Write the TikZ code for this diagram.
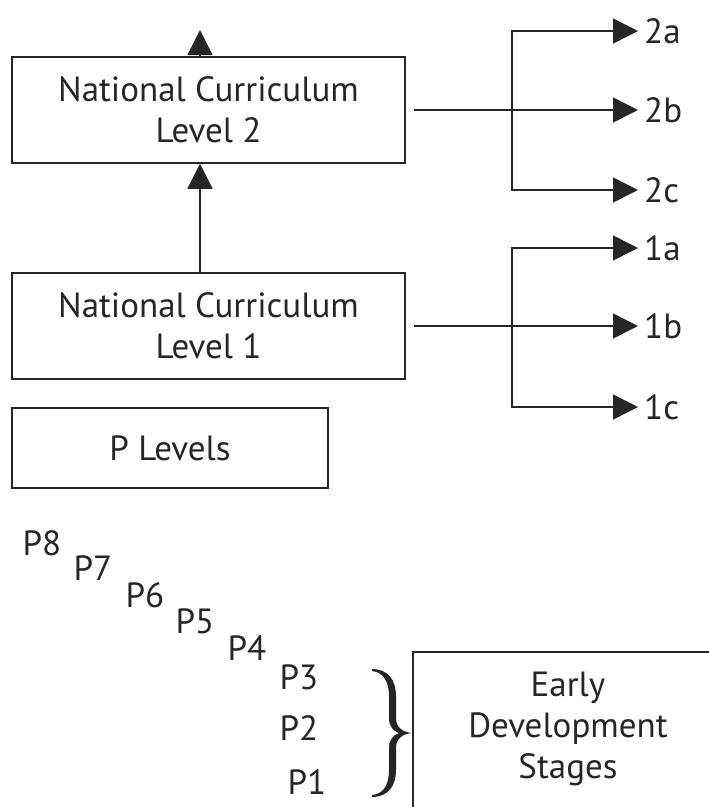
\documentclass[tikz,border=0pt]{standalone}
\usepackage{fontspec}
\setmainfont{PT Sans}
\usetikzlibrary{arrows.meta}
\definecolor{ink}{HTML}{262626}
\tikzset{
  boxnode/.style={draw=ink, line width=1.5pt, align=center, inner sep=0pt, text=ink},
  txt/.style={inner sep=2pt, text=ink},
  lab/.style={inner sep=0pt, text=ink, anchor=west},
  conn/.style={draw=ink, line width=1.5pt},
  arr/.style={conn, -{Triangle[length=25pt,width=25pt]}},
}
\begin{document}
\begin{tikzpicture}[x=1pt,y=-1pt,font=\fontsize{35}{41}\selectfont]
\useasboundingbox (0,0) rectangle (709,807);
\clip (0,0) rectangle (709,807);
% main boxes
\node[boxnode, minimum width=393pt, minimum height=106pt] (nc2) at (208.5,110) {National Curriculum\\Level 2};
\node[boxnode, minimum width=393pt, minimum height=106pt] (nc1) at (208.5,326) {National Curriculum\\Level 1};
\node[boxnode, minimum width=316pt, minimum height=80pt] (plev) at (170,448) {P Levels};
% vertical arrows
\coordinate (top) at (200,30);
\draw[arr] ([xshift=-8.5pt]nc1.north) -- ([xshift=-8.5pt]nc2.south);
\draw[arr] ([xshift=-8.5pt]nc2.north) -- (top);
% level 2 branches
\node[lab] (l2a) at (638,31) {\hspace{6pt}2a};
\node[lab] (l2b) at (638,110) {\hspace{6pt}2b};
\node[lab] (l2c) at (638,190) {\hspace{6pt}2c};
\coordinate (j2) at (512,110);
\draw[arr] ([xshift=8pt]nc2.east) -- (l2b.west);
\draw[arr] (j2) |- (l2a.west);
\draw[arr] (j2) |- (l2c.west);
% level 1 branches
\node[lab] (l1a) at (638,248) {\hspace{6pt}1a};
\node[lab] (l1b) at (638,326) {\hspace{6pt}1b};
\node[lab] (l1c) at (638,407) {\hspace{6pt}1c};
\coordinate (j1) at (512,326);
\draw[arr] ([xshift=8pt]nc1.east) -- (l1b.west);
\draw[arr] (j1) |- (l1a.west);
\draw[arr] (j1) |- (l1c.west);
% P levels
\node[txt] (p8) at (42,543) {P8};
\node[txt] (p7) at (93,568) {P7};
\node[txt] (p6) at (145,595) {P6};
\node[txt] (p5) at (195,621) {P5};
\node[txt] (p4) at (247,648) {P4};
\node[txt] (p3) at (299,677) {P3};
\node[txt] (p2) at (299,728) {P2};
\node[txt] (p1) at (307,782) {P1};
% brace
\fill[ink] (372,669) .. controls (388,669) and (396,680) .. (396,696) -- (396,718)
  .. controls (396,727) and (402,732) .. (412,733)
  .. controls (402,734) and (396,739) .. (396,748) -- (396,770)
  .. controls (396,786) and (388,797) .. (372,797) -- (372,795)
  .. controls (384,794) and (389,784) .. (389,770) -- (389,748)
  .. controls (389,740) and (393,735) .. (399,733)
  .. controls (393,731) and (389,726) .. (389,718) -- (389,696)
  .. controls (389,683) and (384,672) .. (372,671) -- cycle;
% early development stages
\draw[conn] (413,830) -- (413,652) -- (730,652);
\node[txt, align=center] (eds) at (568,729) {Early\\Development\\Stages};
\end{tikzpicture}
\end{document}
